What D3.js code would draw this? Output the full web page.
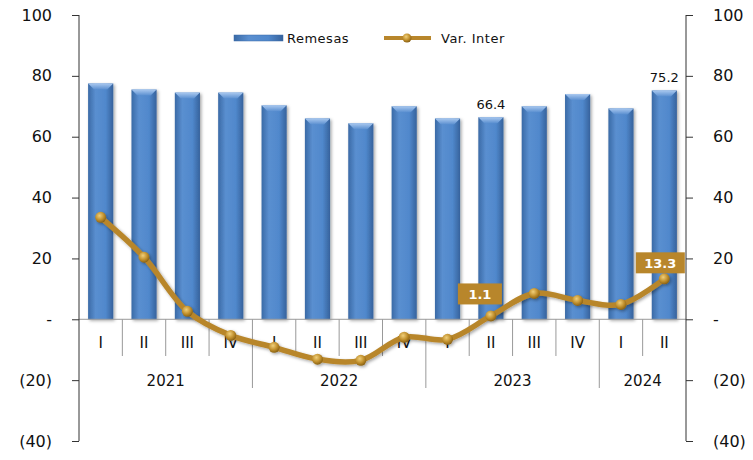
<html lang="en">
<head>
<meta charset="UTF-8">
<script src="https://d3js.org/d3.v7.min.js"></script>
<title>Remesas</title>
<style>
  body { margin: 0; background: #fff; }
  text { font-family: "Century Gothic", "DejaVu Sans", sans-serif; fill: #111; }
</style>
<script>
var quarters = ["I","II","III","IV","I","II","III","IV","I","II","III","IV","I","II"];
var years = [{y:"2021", n:4}, {y:"2022", n:4}, {y:"2023", n:4}, {y:"2024", n:2}];
var remesas = [77.5, 75.5, 74.5, 74.5, 70.3, 66.0, 64.4, 70.0, 66.0, 66.4, 70.0, 74.0, 69.3, 75.2];
var varInter = [33.5, 20.4, 2.6, -5.3, -9.2, -13.1, -13.5, -5.9, -6.6, 1.1, 8.5, 6.2, 4.9, 13.3];
var yTicks = [-40, -20, 0, 20, 40, 60, 80, 100];

function fmt(v){ return v === 0 ? "-" : (v < 0 ? "(" + Math.abs(v) + ")" : "" + v); }

function main(){
  var svg = d3.select("svg");
  var left = 79, right = 686, top = 15, bottom = 441;
  var idx = d3.range(quarters.length);

  var x = d3.scaleBand().domain(idx).range([left, right]).paddingInner(0.42).paddingOuter(0.21);
  var y = d3.scaleLinear().domain([-40, 100]).range([bottom, top]);
  var step = (right - left) / quarters.length;

  var defs = svg.append("defs");
  var bg = defs.append("linearGradient").attr("id", "barg").attr("x1", 0).attr("x2", 1);
  bg.append("stop").attr("offset", "0%").attr("stop-color", "#3a6aa6");
  bg.append("stop").attr("offset", "30%").attr("stop-color", "#5a8fd0");
  bg.append("stop").attr("offset", "70%").attr("stop-color", "#5088cc");
  bg.append("stop").attr("offset", "100%").attr("stop-color", "#36629c");
  var tg = defs.append("linearGradient").attr("id", "topg").attr("x1", 0).attr("x2", 0).attr("y1", 0).attr("y2", 1);
  tg.append("stop").attr("offset", "0%").attr("stop-color", "#a9c8ef");
  tg.append("stop").attr("offset", "100%").attr("stop-color", "#5a8fd0");
  var mg = defs.append("radialGradient").attr("id", "mk").attr("cx", "40%").attr("cy", "35%").attr("r", "65%");
  mg.append("stop").attr("offset", "0%").attr("stop-color", "#f0cf7a");
  mg.append("stop").attr("offset", "60%").attr("stop-color", "#c08f2c");
  mg.append("stop").attr("offset", "100%").attr("stop-color", "#8a6215");
  var sh = defs.append("filter").attr("id", "sh").attr("x", "-30%").attr("y", "-30%").attr("width", "160%").attr("height", "160%");
  sh.append("feDropShadow").attr("dx", 1.5).attr("dy", 1.5).attr("stdDeviation", 1.5).attr("flood-color", "#000").attr("flood-opacity", 0.35);

  // bars
  var bars = svg.append("g").attr("filter", "url(#sh)");
  bars.selectAll("rect.bar").data(remesas).enter().append("rect")
    .attr("class", "bar")
    .attr("x", function(d, i){ return x(i); })
    .attr("y", function(d){ return y(d); })
    .attr("width", x.bandwidth())
    .attr("height", function(d){ return y(0) - y(d); })
    .attr("fill", "url(#barg)");
  bars.selectAll("path.bevel").data(remesas).enter().append("path")
    .attr("class", "bevel")
    .attr("d", function(d, i){
      var x0 = x(i), w = x.bandwidth(), t = y(d);
      return "M" + x0 + "," + t + "L" + (x0 + w) + "," + t + "L" + (x0 + w - 6) + "," + (t + 6) + "L" + (x0 + 6) + "," + (t + 6) + "Z";
    })
    .attr("fill", "url(#topg)");

  // zero line and category separators
  var ax = svg.append("g").attr("stroke", "#999").attr("stroke-width", 1);
  ax.append("line").attr("x1", left).attr("x2", right).attr("y1", y(0)).attr("y2", y(0));
  var cum = 0, yearBounds = [0];
  years.forEach(function(yr){ cum += yr.n; yearBounds.push(cum); });
  d3.range(1, quarters.length).forEach(function(k){
    var isYear = yearBounds.indexOf(k) >= 0;
    ax.append("line").attr("x1", left + k * step).attr("x2", left + k * step)
      .attr("y1", y(0)).attr("y2", isYear ? 388 : 356);
  });

  svg.append("g").selectAll("text").data(quarters).enter().append("text")
    .attr("x", function(d, i){ return x(i) + x.bandwidth() / 2; })
    .attr("y", 348).attr("text-anchor", "middle").style("font-size", "15px")
    .text(function(d){ return d; });
  svg.append("g").selectAll("text").data(years).enter().append("text")
    .attr("x", function(d, i){ return left + step * (yearBounds[i] + yearBounds[i + 1]) / 2; })
    .attr("y", 386).attr("text-anchor", "middle").style("font-size", "15px")
    .text(function(d){ return d.y; });

  // axes
  var la = svg.append("g").attr("transform", "translate(" + left + ",0)")
    .call(d3.axisLeft(y).tickValues(yTicks).tickFormat(fmt).tickSize(7).tickPadding(20));
  var ra = svg.append("g").attr("transform", "translate(" + right + ",0)")
    .call(d3.axisRight(y).tickValues(yTicks).tickFormat(fmt).tickSize(7).tickPadding(20));
  [la, ra].forEach(function(a){
    a.select(".domain").attr("stroke", "#333").attr("d", "M0," + top + "V" + bottom);
    a.selectAll(".tick line").attr("stroke", "#333");
    a.selectAll(".tick text").style("font-size", "16px").attr("fill", "#111")
      .style("font-family", "\"Century Gothic\", \"DejaVu Sans\", sans-serif");
  });

  // line
  var line = d3.line()
    .x(function(d, i){ return x(i) + x.bandwidth() / 2; })
    .y(function(d){ return y(d); })
    .curve(d3.curveCatmullRom.alpha(0.5));
  var lg = svg.append("g").attr("filter", "url(#sh)");
  lg.append("path").datum(varInter).attr("d", line)
    .attr("fill", "none").attr("stroke", "#b8862b").attr("stroke-width", 5.5).attr("stroke-linejoin", "round");
  lg.selectAll("circle").data(varInter).enter().append("circle")
    .attr("cx", function(d, i){ return x(i) + x.bandwidth() / 2; })
    .attr("cy", function(d){ return y(d); })
    .attr("r", 5.5).attr("fill", "url(#mk)");

  // data labels
  var bl = [9, 13];
  svg.append("g").selectAll("text").data(bl).enter().append("text")
    .attr("x", function(i){ return x(i) + x.bandwidth() / 2; })
    .attr("y", function(i){ return y(remesas[i]) - 8; })
    .attr("text-anchor", "middle").style("font-size", "13px")
    .text(function(i){ return remesas[i].toFixed(1); });
  var boxes = [{i: 9, dx: -11, dy: -22, w: 44}, {i: 13, dx: -4, dy: -16, w: 49}];
  var bx = svg.append("g");
  boxes.forEach(function(b){
    var cx = x(b.i) + x.bandwidth() / 2 + b.dx, cy = y(varInter[b.i]) + b.dy;
    bx.append("rect").attr("x", cx - b.w / 2).attr("y", cy - 10.5).attr("width", b.w).attr("height", 21)
      .attr("fill", "#b8862b");
    bx.append("text").attr("x", cx).attr("y", cy + 5).attr("text-anchor", "middle")
      .style("font-size", "13px").style("font-weight", "bold").style("fill", "#fff")
      .text(varInter[b.i].toFixed(1));
  });

  // legend
  var lgd = svg.append("g");
  lgd.append("rect").attr("x", 234).attr("y", 35).attr("width", 49).attr("height", 6).attr("fill", "url(#barg)")
    .attr("stroke", "#3a6aa6").attr("stroke-width", 0.5);
  lgd.append("text").attr("x", 287).attr("y", 43).style("font-size", "13px").style("letter-spacing", "0.5px").text("Remesas");
  lgd.append("line").attr("x1", 384).attr("x2", 431).attr("y1", 38).attr("y2", 38)
    .attr("stroke", "#b8862b").attr("stroke-width", 4);
  lgd.append("circle").attr("cx", 407).attr("cy", 38).attr("r", 4.5).attr("fill", "url(#mk)");
  lgd.append("text").attr("x", 441).attr("y", 43).style("font-size", "13px").style("letter-spacing", "0.5px").text("Var. Inter");
}
</script>
</head>
<body onload="main();">
<svg width="753" height="460"></svg>
</body>
</html>
